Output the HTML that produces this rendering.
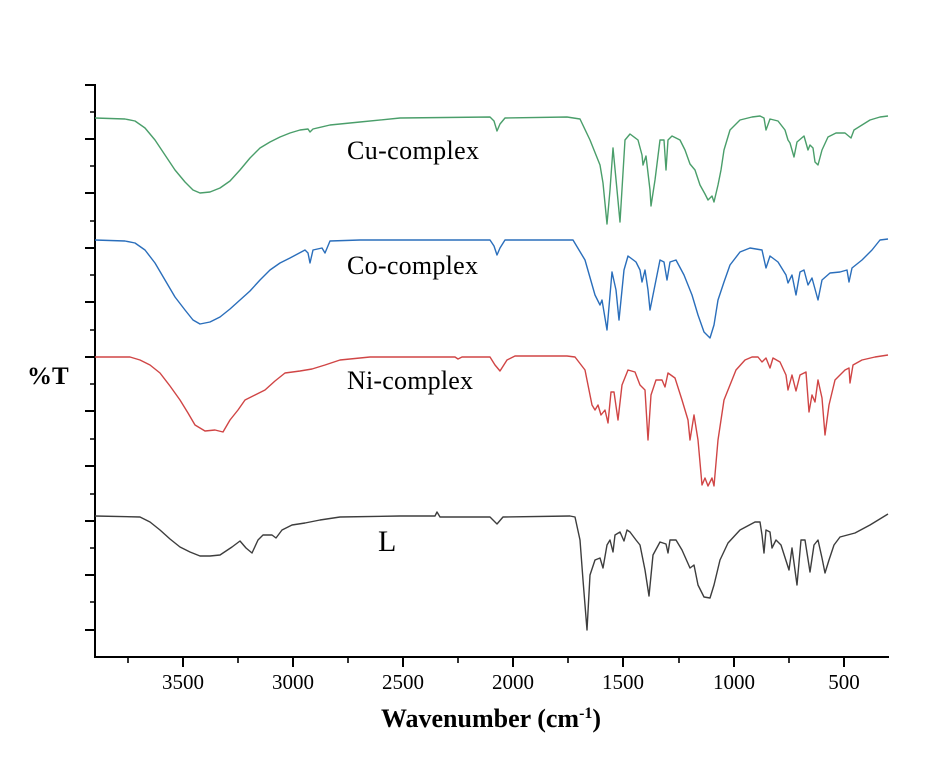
<!DOCTYPE html>
<html><head><meta charset="utf-8"><style>
html,body{margin:0;padding:0;background:#fff;}
svg{display:block;}
text{font-family:"Liberation Serif",serif;}
</style></head><body>
<svg width="934" height="767" viewBox="0 0 934 767" xmlns="http://www.w3.org/2000/svg">
<g stroke="#000" stroke-width="2" fill="none">
<line x1="95" y1="84" x2="95" y2="658"/>
<line x1="94" y1="657" x2="889" y2="657"/>
<path d="M85 85H95M85 139H95M85 193H95M85 248H95M85 302H95M85 357H95M85 411H95M85 466H95M85 521H95M85 575H95M85 630H95"/>
<path d="M90 112H95M90 166H95M90 221H95M90 275H95M90 330H95M90 384H95M90 439H95M90 494H95M90 548H95M90 602H95" stroke-width="1.6"/>
<path d="M183 657V667M293 657V667M403 657V667M513 657V667M623 657V667M734 657V667M844 657V667"/>
<path d="M128 657V663M238 657V663M348 657V663M458 657V663M568 657V663M679 657V663M789 657V663" stroke-width="1.6"/>
</g>
<g font-size="21" text-anchor="middle" fill="#000">
<text x="183" y="689">3500</text><text x="293" y="689">3000</text><text x="403" y="689">2500</text>
<text x="513" y="689">2000</text><text x="623" y="689">1500</text><text x="734" y="689">1000</text><text x="844" y="689">500</text>
</g>
<text x="491" y="727" font-size="26" font-weight="bold" text-anchor="middle">Wavenumber (cm<tspan font-size="16" dy="-9">-1</tspan><tspan dy="9">)</tspan></text>
<text x="27" y="384" font-size="25" font-weight="bold">%T</text>
<g font-size="26" fill="#000">
<text x="347" y="159" textLength="132">Cu-complex</text>
<text x="347" y="274" textLength="131">Co-complex</text>
<text x="347" y="389" textLength="126">Ni-complex</text>
<text x="378" y="551" font-size="30">L</text>
</g>
<g fill="none" stroke-width="1.4" stroke-linejoin="round">
<polyline stroke="#4a9e6a" points="95,118 125,119 135,121 145,128 155,140 165,155 175,170 185,182 193,190 200,193 210,192 220,188 230,181 240,170 250,158 260,148 270,142 280,137 290,133 300,130 308,129 310,132 313,129 330,125 360,122 400,118 490,117 494,121 497,131 500,124 505,118 567,117 580,119 590,140 600,165 603,183 607,224 610,190 613,148 617,190 620,222 625,140 630,134 638,140 642,155 643,165 646,156 650,190 651,206 655,180 660,140 664,140 666,170 668,140 672,136 680,140 685,150 690,164 695,170 700,185 705,194 708,200 712,196 714,202 718,185 721,170 724,150 730,130 740,120 752,117 760,116 764,118 766,130 770,119 778,121 785,130 788,140 790,143 794,157 797,142 804,136 808,150 810,145 813,148 815,162 818,165 822,150 828,137 836,133 845,133 851,138 854,130 862,125 870,120 880,117 888,116"/>
<polyline stroke="#2a6ebb" points="95,240 125,241 135,243 145,250 155,263 165,280 175,297 185,310 193,320 200,324 210,322 220,317 230,309 240,300 250,291 260,280 270,270 280,263 290,258 305,250 308,253 310,263 313,250 322,248 325,253 330,241 360,240 490,240 494,246 497,255 500,248 505,240 567,240 573,240 585,260 595,295 600,305 602,300 607,330 612,272 616,290 619,320 624,270 628,256 636,262 640,270 642,282 645,270 648,290 650,310 654,290 660,260 664,262 667,280 670,262 676,260 684,275 692,295 698,315 704,332 710,338 714,325 718,300 724,282 730,265 740,252 750,248 762,250 766,268 770,256 778,262 786,275 788,283 792,275 796,295 800,272 804,270 808,285 812,278 818,300 822,280 830,273 840,272 847,270 849,282 852,268 862,260 872,250 880,240 888,239"/>
<polyline stroke="#d04545" points="95,357 130,357 140,360 150,365 160,373 170,386 180,400 188,413 195,425 205,431 215,430 223,432 230,420 238,410 245,400 255,395 265,390 275,381 285,373 300,371 312,369 325,365 340,360 370,357 455,357 458,359 462,357 490,357 495,365 500,371 507,360 515,356 567,356 575,357 585,370 590,395 592,405 595,410 598,405 601,415 605,410 608,423 611,392 614,392 618,420 622,385 628,370 635,372 640,385 645,390 648,440 651,395 656,380 662,380 665,387 668,373 675,378 682,400 688,420 690,440 694,415 698,440 702,485 705,478 708,486 712,478 714,486 718,440 724,400 730,385 736,370 745,360 752,357 758,357 762,362 766,358 770,368 773,358 780,362 786,375 788,390 792,375 796,391 800,375 806,372 809,412 812,395 815,402 818,380 822,398 825,435 829,405 835,380 845,370 849,368 850,383 853,365 862,360 875,357 888,355"/>
<polyline stroke="#3d3d3d" points="95,516 140,517 150,522 160,530 170,539 180,547 190,552 200,556 210,556 220,555 232,547 240,541 246,548 252,553 258,540 263,535 272,535 276,538 282,530 292,525 305,523 320,520 340,517 400,516 435,516 437,512 440,517 490,517 497,524 503,517 570,516 575,517 580,540 583,580 587,630 590,575 595,560 600,558 603,568 607,545 610,540 613,552 615,535 620,532 624,541 627,530 630,532 636,540 640,545 645,570 649,596 653,555 660,542 666,544 668,553 670,540 676,540 682,550 690,568 694,565 698,585 704,597 710,598 714,585 720,560 728,543 740,530 755,522 760,522 762,535 764,553 766,530 770,532 772,548 776,540 781,545 789,570 792,548 797,585 801,540 805,540 810,572 814,545 818,540 822,558 825,573 829,560 834,545 840,537 855,533 870,525 888,514"/>
</g>
</svg>
</body></html>
